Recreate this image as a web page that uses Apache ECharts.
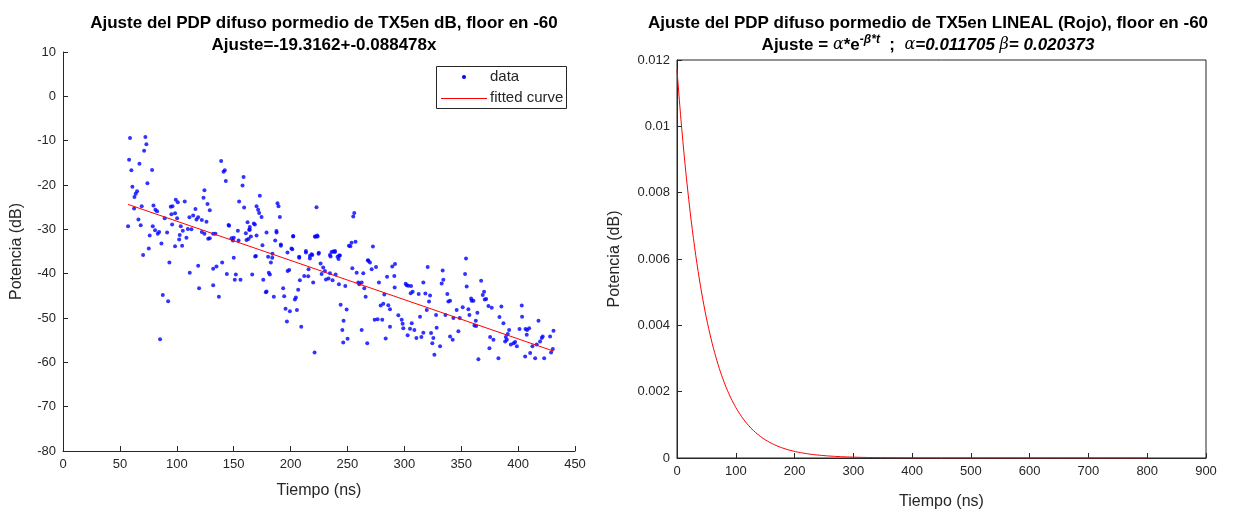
<!DOCTYPE html>
<html>
<head>
<meta charset="utf-8">
<script src="https://cdn.jsdelivr.net/npm/echarts@6/dist/echarts.min.js"></script>
<style>
  html, body { margin: 0; padding: 0; background: #fff; }
  #chart { width: 1254px; height: 515px; }
</style>
</head>
<body>
<div id="chart"></div>
<script>
// Measured PDP samples (dB) vs delay (ns)
const tiempoNs = [
  58.9,72.4,73.3,71.3,58.1,67.2,60.1,78.3,74.2,61.0,65.1,63.9,62.8,69.2,62.5,66.3,68.3,57.2,76.2,75.4,
  79.5,81.2,82.7,78.9,80.9,84.5,83.3,86.5,89.4,91.5,95.9,94.7,96.2,99.1,100.9,98.5,95.3,100.3,103.5,105.3,
  102.6,102.1,98.5,104.7,107.0,108.5,111.1,109.7,112.9,114.4,116.4,117.3,118.8,123.5,124.3,127.0,126.1,122.0,129.0,122.0,
  124.3,127.6,132.0,129.0,134.0,139.0,141.1,142.2,143.1,145.5,146.0,148.1,150.1,149.3,153.7,154.3,157.8,158.7,159.2,154.8,
  162.2,163.6,163.0,160.7,161.3,
  70.4,93.5,111.4,118.8,119.6,87.7,92.4,85.3,132.0,134.9,139.9,132.0,137.0,144.0,150.1,151.9,151.0,156.0,166.3,168.9,
  176.0,180.9,181.8,178.9,178.3,182.7,183.9,185.3,193.5,194.4,195.6,196.8,199.4,197.4,198.8,201.5,203.8,204.7,205.6,206.7,
  208.2,209.4,207.6,212.0,213.5,215.8,215.5,217.0,219.1,219.9,221.1,222.0,223.8,224.6,226.4,227.3,228.7,230.2,231.1,233.4,
  234.6,236.9,237.5,239.0,234.6,242.2,243.4,239.6,242.5,244.0,245.5,246.3,248.1,249.3,246.6,250.1,251.3,
  187.7,191.5,202.3,164.2,178.9,170.1,
  173.0,170.1,171.5,172.4,174.5,167.7,168.6,164.2,165.1,175.3,169.5,180.3,188.5,189.4,187.6,186.5,191.5,190.6,184.1,202.3,
  200.8,197.3,222.8,221.4,223.4,213.5,218.4,224.9,207.6,217.0,235.2,236.0,239.0,241.3,242.8,252.5,253.6,257.1,255.1,256.0,
  272.4,268.0,
  254.3,258.1,259.5,260.4,262.5,264.8,263.9,266.0,262.5,267.4,268.3,269.8,271.3,275.1,277.7,283.6,273.9,276.5,280.6,279.2,
  281.5,282.4,284.8,287.4,285.9,287.4,289.4,291.8,291.2,291.5,294.7,297.7,298.5,299.1,302.9,305.0,306.5,308.8,310.6,315.0,
  316.7,313.8,301.2,302.1,303.5,305.9,305.6,307.3,312.6,316.7,318.5,320.5,321.7,322.6,319.7,323.5,325.5,326.4,324.6,328.4,
  331.4,327.9,332.8,334.3,333.7,336.1,337.8,338.7,340.2,340.2,342.5,343.1,346.0,347.5,348.7,351.3,353.4,354.2,354.8,356.3,
  357.2,358.7,359.2,360.7,361.6,363.1,362.8,364.2,365.1,367.5,368.9,370.1,370.7,371.9,373.9,375.4,374.8,376.8,378.3,382.7,
  383.6,385.3,387.1,388.6,389.2,390.1,390.9,392.1,393.6,396.0,397.4,398.9,401.2,403.2,403.5,406.2,406.5,407.9,409.7,407.6,
  410.6,412.6,415.0,416.4,417.9,419.3,420.8,421.6,422.9,428.1,429.0,430.5,431.1
];
const potenciaDb = [
  -9.4,-9.2,-10.8,-12.3,-14.3,-15.2,-16.7,-16.6,-19.6,-20.4,-21.4,-22.0,-22.7,-24.8,-25.3,-27.8,-29.1,-29.3,-31.4,-34.3,
  -24.6,-25.6,-25.9,-29.3,-30.2,-30.6,-31.0,-33.2,-27.5,-30.7,-28.9,-24.9,-24.8,-23.3,-23.9,-26.4,-26.6,-27.5,-29.3,-30.3,
  -31.3,-32.3,-33.8,-33.7,-23.7,-31.9,-27.3,-29.9,-30.0,-26.9,-25.4,-27.8,-27.3,-22.9,-21.2,-24.3,-28.3,-27.9,-25.7,-30.6,
  -31.0,-32.1,-31.0,-32.0,-31.0,-14.6,-17.0,-16.7,-19.1,-29.0,-29.2,-32.0,-31.9,-32.5,-30.3,-32.5,-20.1,-18.2,-25.1,-23.7,
  -28.4,-30.1,-32.2,-30.9,-32.4,
  -35.8,-37.5,-39.8,-38.2,-43.3,-44.8,-46.2,-54.8,-38.9,-38.4,-37.5,-42.6,-45.2,-40.1,-36.4,-40.2,-41.4,-41.4,-40.2,-36.1,
  -41.4,-39.8,-40.2,-44.0,-44.2,-37.5,-36.4,-45.2,-43.3,-45.1,-47.9,-50.8,-48.5,-39.4,-39.2,-34.5,-45.8,-45.4,-48.2,-43.6,
  -41.5,-52.0,-36.4,-40.5,-35.2,-39.0,-40.6,-36.0,-35.8,-42.0,-57.8,-31.7,-31.6,-35.5,-37.7,-40.1,-38.6,-39.4,-41.3,-41.1,
  -39.9,-41.5,-35.0,-35.1,-35.8,-36.7,-35.9,-40.2,-42.4,-47.0,-52.7,-55.5,-42.8,-48.1,-50.6,-54.7,-33.7,
  -30.7,-33.7,-31.6,-29.5,-30.7,-31.4,
  -22.4,-24.8,-25.6,-26.3,-27.2,-28.7,-28.9,-30.1,-31.6,-33.6,-36.0,-36.2,-24.1,-24.8,-30.4,-32.5,-33.4,-27.2,-35.5,-31.5,
  -34.3,-35.2,-25.0,-31.6,-31.4,-34.9,-35.6,-35.3,-36.2,-36.6,-36.1,-35.1,-34.9,-36.2,-35.9,-33.8,-33.0,-32.8,-27.1,-26.3,
  -33.9,-37.0,
  -38.8,-39.8,-42.0,-42.4,-42.0,-43.3,-39.9,-45.2,-52.7,-55.7,-37.1,-37.5,-39.0,-38.5,-42.0,-54.6,-50.4,-50.3,-50.4,-47.2,
  -46.8,-44.7,-40.7,-52.0,-47.1,-48.0,-38.4,-37.8,-40.5,-43.1,-49.4,-50.4,-51.3,-52.3,-53.9,-52.4,-51.2,-52.7,-54.5,-54.3,
  -53.3,-49.7,-42.3,-42.6,-42.7,-42.8,-44.4,-44.1,-44.6,-42.0,-44.5,-38.5,-46.3,-44.9,-48.2,-53.4,-54.5,-58.3,-55.7,-52.2,
  -56.4,-49.3,-42.2,-41.4,-39.3,-49.3,-44.6,-46.3,-46.1,-54.2,-54.9,-50.0,-48.2,-53.0,-50.0,-47.6,-40.1,-36.6,-42.9,-48.0,
  -49.3,-45.6,-46.1,-46.1,-51.7,-51.8,-50.6,-48.8,-59.3,-41.6,-44.8,-44.1,-45.8,-45.7,-47.3,-54.3,-56.8,-47.7,-54.9,-59.1,
  -49.8,-47.4,-51.2,-55.3,-54.3,-54.9,-53.6,-52.7,-56.0,-55.7,-55.4,-56.4,-52.5,-47.2,-49.7,-58.7,-52.5,-52.7,-52.3,-53.8,
  -57.9,-56.4,-59.1,-56.0,-50.6,-55.3,-54.5,-54.2,-59.1,-54.2,-57.8,-57.0,-52.9
];

// Legend entries
const leyendaNombres = ['data', 'fitted curve'];

// Linear fit in dB: y = a + b*x
const ajusteA = -19.3162;
const ajusteB = -0.088478;
// Exponential fit in linear units: y = alpha * exp(-beta * t)
const alpha = 0.011705;
const beta = 0.020373;
const tiempoExp = [];
for (let t = 0; t <= 800; t += 2) tiempoExp.push(t);

// Tick settings
const ejeDbX = { min: 0, max: 450, interval: 50 };
const ejeDbY = { min: -80, max: 10, interval: 10 };
const ejeLinX = { min: 0, max: 900, interval: 100 };
const ejeLinY = { min: 0, max: 0.012, interval: 0.002 };

const scatterData = tiempoNs.map((x, i) => [x, potenciaDb[i]]);
const xMin = Math.min(...tiempoNs), xMax = Math.max(...tiempoNs);
const fitLine = [[xMin, ajusteA + ajusteB * xMin], [xMax, ajusteA + ajusteB * xMax]];
const expCurve = tiempoExp.map(t => [t, alpha * Math.exp(-beta * t)]);

const FONT = 'Liberation Sans, Arial, Helvetica, sans-serif';
const INK = '#262626';
const AZUL = '#0000ff';
const ROJO = '#ff0000';

function axisCommon(extra) {
  return Object.assign({
    type: 'value',
    axisLine: { show: true, onZero: false, lineStyle: { color: INK, width: 1 } },
    axisTick: { show: true, inside: true, length: 5, lineStyle: { color: INK } },
    splitLine: { show: false },
    axisLabel: { color: INK, fontFamily: FONT, fontSize: 13, margin: 7 },
    nameTextStyle: { color: INK, fontFamily: FONT, fontSize: 16 },
    nameLocation: 'middle'
  }, extra);
}

// Boxed legend (marker + label per row) drawn as a graphic group
const legendText = { fill: INK, font: '15px ' + FONT, textVerticalAlign: 'middle' };
const legendGroup = {
  type: 'group', left: 436, top: 66, z: 10,
  children: [
    { type: 'rect', shape: { x: 0.5, y: 0.5, width: 130, height: 42 }, style: { fill: '#fff', stroke: INK, lineWidth: 1 } },
    { type: 'circle', shape: { cx: 28, cy: 11, r: 2 }, style: { fill: AZUL } },
    { type: 'text', x: 54, y: 11, style: Object.assign({ text: leyendaNombres[0] }, legendText) },
    { type: 'line', shape: { x1: 5, y1: 32.5, x2: 51, y2: 32.5 }, style: { stroke: ROJO, lineWidth: 1 } },
    { type: 'text', x: 54, y: 32, style: Object.assign({ text: leyendaNombres[1] }, legendText) }
  ]
};

const chart = echarts.init(document.getElementById('chart'), null, { renderer: 'canvas' });
chart.setOption({
  backgroundColor: '#ffffff',
  animation: false,
  title: [
    {
      text: 'Ajuste del PDP difuso pormedio de TX5en dB, floor en -60\nAjuste=-19.3162+-0.088478x',
      left: 319, top: 7, textAlign: 'center',
      textStyle: { fontFamily: FONT, fontSize: 17, fontWeight: 'bold', color: '#000', lineHeight: 22 }
    },
    {
      text: 'Ajuste del PDP difuso pormedio de TX5en LINEAL (Rojo), floor en -60\n' +
            '{b|Ajuste = }{g|α}{b|*e}{sup|-β*t}{b|  ;  }{g|α}{bi|=0.011705 }{g|β}{bi|= 0.020373}',
      left: 923, top: 7, textAlign: 'center',
      textStyle: {
        fontFamily: FONT, fontSize: 17, fontWeight: 'bold', color: '#000', lineHeight: 22,
        rich: {
          b: { fontFamily: FONT, fontSize: 17, fontWeight: 'bold', color: '#000', lineHeight: 22 },
          bi: { fontFamily: FONT, fontSize: 17, fontWeight: 'bold', fontStyle: 'italic', color: '#000', lineHeight: 22 },
          g: { fontFamily: 'DejaVu Serif, serif', fontSize: 16, fontWeight: 'normal', fontStyle: 'italic', color: '#000', lineHeight: 22 },
          sup: { fontFamily: FONT, fontSize: 12, fontWeight: 'bold', fontStyle: 'italic', color: '#000', lineHeight: 22, verticalAlign: 'top', padding: [0, 0, 10, 0] }
        }
      }
    }
  ],
  graphic: [legendGroup],
  grid: [
    { left: 63, top: 52, width: 512, height: 399, containLabel: false },
    { left: 677, top: 60, width: 529, height: 401, containLabel: false, show: true, borderColor: INK, borderWidth: 1, backgroundColor: 'transparent' }
  ],
  xAxis: [
    axisCommon(Object.assign({ gridIndex: 0, name: 'Tiempo (ns)', nameGap: 32 }, ejeDbX)),
    axisCommon(Object.assign({ gridIndex: 1, name: 'Tiempo (ns)', nameGap: 36 }, ejeLinX))
  ],
  yAxis: [
    axisCommon(Object.assign({ gridIndex: 0, name: 'Potencia (dB)', nameGap: 38 }, ejeDbY)),
    axisCommon(Object.assign({ gridIndex: 1, name: 'Potencia (dB)', nameGap: 54 }, ejeLinY))
  ],
  series: [
    {
      name: leyendaNombres[0], type: 'scatter', xAxisIndex: 0, yAxisIndex: 0,
      data: scatterData, symbol: 'circle', symbolSize: 4,
      itemStyle: { color: AZUL }
    },
    {
      name: leyendaNombres[1], type: 'line', xAxisIndex: 0, yAxisIndex: 0,
      data: fitLine, showSymbol: false, symbol: 'none',
      lineStyle: { color: ROJO, width: 1 }, itemStyle: { color: ROJO }
    },
    {
      name: 'exp', type: 'line', xAxisIndex: 1, yAxisIndex: 1,
      data: expCurve, showSymbol: false, symbol: 'none', smooth: false,
      lineStyle: { color: ROJO, width: 1 }
    }
  ]
});
</script>
</body>
</html>
